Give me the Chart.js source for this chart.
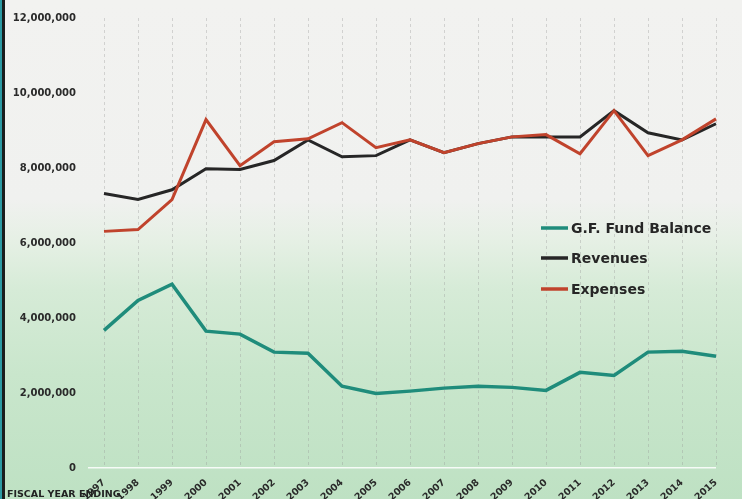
<!DOCTYPE html>
<html>
<head>
<meta charset="utf-8">
<script src="https://cdn.jsdelivr.net/npm/chart.js@4.4.0/dist/chart.umd.min.js"></script>
<style>
  html, body { margin: 0; padding: 0; }
  #wrap {
    position: relative; width: 742px; height: 499px; overflow: hidden;
    background: linear-gradient(to bottom, #f2f2f0 0%, #f0f1ef 40%, #e6f0e5 48%, #d6ebd7 58%, #c9e6cc 75%, #bee1c3 100%);
  }
  #edge1 { position: absolute; left: 0; top: 0; width: 2px; height: 499px; background: #2c9aa3; }
  #edge2 { position: absolute; left: 2px; top: 0; width: 3px; height: 499px; background: #1a1d1d; }
  canvas { position: absolute; left: 0; top: 0; }
</style>
</head>
<body>
<div id="wrap">
  <canvas id="c" width="742" height="499"></canvas>
  <div id="edge1"></div><div id="edge2"></div>
</div>
<script>
const years = ["1997","1998","1999","2000","2001","2002","2003","2004","2005","2006","2007","2008","2009","2010","2011","2012","2013","2014","2015"];
const fundBalance = [3670000,4470000,4900000,3650000,3570000,3090000,3060000,2180000,1990000,2050000,2130000,2180000,2150000,2070000,2550000,2470000,3090000,3110000,2980000];
const revenues = [7320000,7160000,7420000,7980000,7960000,8200000,8750000,8300000,8330000,8750000,8410000,8650000,8830000,8830000,8830000,9530000,8940000,8750000,9180000];
const expenses = [6310000,6360000,7160000,9290000,8060000,8700000,8780000,9210000,8540000,8750000,8410000,8650000,8830000,8890000,8380000,9530000,8330000,8750000,9310000];
const yTicks = [0,2000000,4000000,6000000,8000000,10000000,12000000];
const axisTitle = "FISCAL YEAR ENDING";

const FONT = "'DejaVu Sans', sans-serif";

const overlayPlugin = {
  id: 'overlay',
  afterDraw(chart) {
    const ctx = chart.ctx;
    ctx.save();
    const ys = [228, 258, 289];
    chart.data.datasets.forEach((ds, i) => {
      const y = ys[i];
      ctx.strokeStyle = ds.borderColor;
      ctx.lineWidth = 3.5;
      ctx.beginPath();
      ctx.moveTo(541, y);
      ctx.lineTo(568, y);
      ctx.stroke();
      ctx.fillStyle = '#262626';
      ctx.font = "bold 14px " + FONT;
      ctx.textBaseline = 'middle';
      ctx.textAlign = 'left';
      ctx.fillText(ds.label, 571, y + 1);
    });
    ctx.fillStyle = '#222';
    ctx.font = "bold 9.5px " + FONT;
    ctx.textBaseline = 'alphabetic';
    ctx.fillText(axisTitle, 7, 497);
    ctx.restore();
  }
};

new Chart(document.getElementById('c'), {
  type: 'line',
  data: {
    labels: years,
    datasets: [
      { label: 'G.F. Fund Balance', data: fundBalance, borderColor: '#1f8c7b', borderWidth: 3.5, order: 2 },
      { label: 'Revenues', data: revenues, borderColor: '#262626', borderWidth: 3, order: 1 },
      { label: 'Expenses', data: expenses, borderColor: '#c0432c', borderWidth: 3, order: 0 }
    ]
  },
  options: {
    responsive: false,
    animation: false,
    devicePixelRatio: 1,
    elements: { point: { radius: 0 }, line: { tension: 0 } },
    layout: { padding: { top: 17, right: 26, left: 0, bottom: 0 } },
    plugins: { legend: { display: false }, tooltip: { enabled: false } },
    scales: {
      x: {
        offset: false,
        border: { display: false, dash: [3, 3] },
        grid: { color: 'rgba(150,150,150,0.35)', lineWidth: 1, drawTicks: false },
        ticks: {
          autoSkip: false, minRotation: 42, maxRotation: 42, padding: 9,
          color: '#2a2a2a', font: { family: FONT, size: 9.5, weight: 'bold' }
        },
        afterFit(s) { s.height = 31; }
      },
      y: {
        min: 0, max: 12000000,
        border: { display: false },
        afterBuildTicks(s) { s.ticks = yTicks.map(v => ({ value: v })); },
        afterFit(s) { s.width = 104; },
        grid: {
          drawTicks: true, tickLength: 16,
          color: (c) => c.tick && c.tick.value === 0 ? 'rgba(255,255,255,0.85)' : 'rgba(0,0,0,0)',
          lineWidth: 1.5
        },
        ticks: {
          padding: 12, color: '#2a2a2a',
          font: { family: FONT, size: 10, weight: 'bold' },
          callback: (v) => Number(v).toLocaleString('en-US')
        }
      }
    }
  },
  plugins: [overlayPlugin]
});
</script>
</body>
</html>
